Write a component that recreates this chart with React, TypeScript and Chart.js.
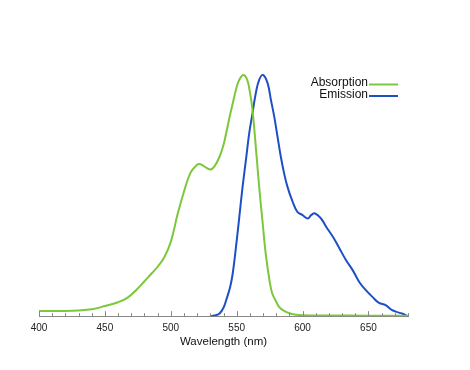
import React, { useEffect, useRef } from "react";
import { Chart, registerables } from "chart.js";

Chart.register(...registerables);

const absWavelengths = [400, 410, 420, 430, 440, 450, 460, 467, 474, 480, 486, 490, 495, 500, 505, 510, 515, 520, 522, 525, 530, 533, 537, 540, 542, 545, 547, 550, 552, 555, 558, 560, 562, 565, 567, 570, 572, 575, 577, 580, 582, 585, 590, 595, 600, 620, 650, 680];
const absorption = [0.022, 0.022, 0.022, 0.024, 0.029, 0.042, 0.058, 0.076, 0.11, 0.145, 0.18, 0.205, 0.243, 0.308, 0.419, 0.516, 0.595, 0.628, 0.631, 0.622, 0.608, 0.62, 0.661, 0.71, 0.758, 0.835, 0.882, 0.95, 0.98, 1.0, 0.98, 0.93, 0.855, 0.67, 0.54, 0.37, 0.26, 0.145, 0.094, 0.06, 0.04, 0.025, 0.012, 0.006, 0.004, 0.003, 0.002, 0.002];

const emWavelengths = [530, 534, 537, 540, 542, 545, 547, 549.5, 552, 554.5, 557, 559.5, 562, 564.5, 567, 570, 573.5, 576, 578.5, 581, 583.5, 586, 588.5, 592, 596, 600, 604, 606.5, 609.5, 614, 618, 623, 628, 633, 638, 643, 648, 653, 658, 663, 668, 673, 676, 680];
const emission = [0, 0.004, 0.011, 0.035, 0.066, 0.12, 0.177, 0.288, 0.412, 0.537, 0.647, 0.758, 0.841, 0.924, 0.979, 1.0, 0.965, 0.896, 0.827, 0.744, 0.661, 0.592, 0.537, 0.481, 0.433, 0.419, 0.405, 0.419, 0.426, 0.405, 0.37, 0.329, 0.281, 0.232, 0.191, 0.142, 0.108, 0.08, 0.055, 0.046, 0.025, 0.015, 0.01, 0.0];

const seriesNames = ["Absorption", "Emission"];
const seriesColors = ["#7cc83a", "#1f4fc6"];
const xTitle = "Wavelength (nm)";

const FONT = "'Liberation Sans', Arial, sans-serif";

const insideTicks = {
  id: "insideTicks",
  afterDraw(chart: any) {
    const ctx = chart.ctx;
    const xs = chart.scales.x;
    const y0 = chart.chartArea.bottom;
    ctx.save();
    ctx.strokeStyle = "#888";
    ctx.lineWidth = 1;
    for (let v = xs.min; v <= xs.max; v += 10) {
      const px = Math.round(xs.getPixelForValue(v)) + 0.5;
      const len = v % 50 === 0 ? 5 : 3;
      ctx.beginPath();
      ctx.moveTo(px, y0);
      ctx.lineTo(px, y0 - len);
      ctx.stroke();
    }
    // legend
    const right = chart.chartArea.right;
    ctx.font = `12px ${FONT}`;
    ctx.textAlign = "right";
    ctx.textBaseline = "middle";
    const textRight = right - 40;
    const top = chart.chartArea.top;
    seriesNames.forEach((name, i) => {
      const y = top + 23 + i * 11.5;
      ctx.fillStyle = "#111";
      ctx.fillText(name, textRight, y);
      ctx.strokeStyle = seriesColors[i];
      ctx.lineWidth = 2;
      ctx.beginPath();
      ctx.moveTo(textRight + 1, y + 1.5);
      ctx.lineTo(textRight + 30, y + 1.5);
      ctx.stroke();
    });
    ctx.restore();
  },
};

export default function App() {
  const ref = useRef<HTMLCanvasElement>(null);
  useEffect(() => {
    if (!ref.current) return;
    const chart = new Chart(ref.current, {
      type: "line",
      data: {
        datasets: [
          {
            label: seriesNames[0],
            data: absWavelengths.map((x, i) => ({ x, y: absorption[i] })),
            borderColor: seriesColors[0],
            borderWidth: 2,
            pointRadius: 0,
            tension: 0.4,
            fill: false,
          },
          {
            label: seriesNames[1],
            data: emWavelengths.map((x, i) => ({ x, y: emission[i] })),
            borderColor: seriesColors[1],
            borderWidth: 2,
            pointRadius: 0,
            tension: 0.4,
            fill: false,
          },
        ],
      },
      options: {
        animation: false,
        responsive: false,
        maintainAspectRatio: false,
        layout: { padding: { left: 39, right: 62, top: 60, bottom: 21 } },
        plugins: { legend: { display: false }, tooltip: { enabled: false } },
        scales: {
          x: {
            type: "linear",
            min: 400,
            max: 680,
            grid: { display: false, drawTicks: false },
            border: { display: true, color: "#888", width: 1 },
            ticks: {
              stepSize: 50,
              padding: 6,
              color: "#222",
              font: { family: FONT, size: 10 },
              callback: (v: any) => (v % 50 === 0 && v <= 650 ? String(v) : ""),
            },
            title: {
              display: true,
              text: xTitle,
              color: "#111",
              font: { family: FONT, size: 11.5 },
              padding: { top: -5, bottom: 0 },
            },
          },
          y: { display: false, min: 0, max: 1.062 },
        },
      },
      plugins: [insideTicks],
    });
    return () => chart.destroy();
  }, []);
  return (
    <div style={{ position: "fixed", left: 0, top: 0, width: 470, height: 370, background: "#fff" }}>
      <canvas ref={ref} width={470} height={370} />
    </div>
  );
}
